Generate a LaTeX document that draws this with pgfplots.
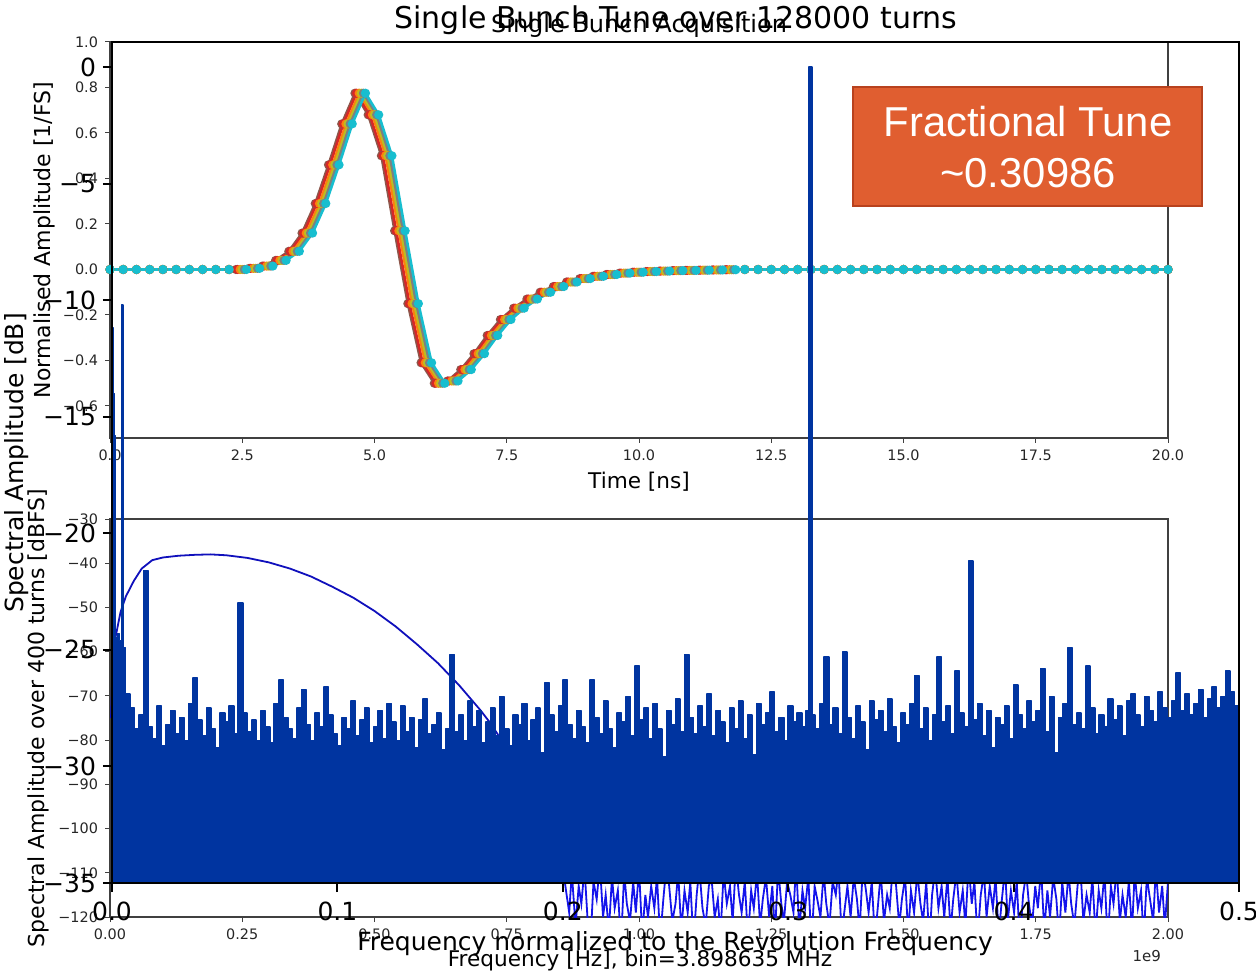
\documentclass[border=0pt]{standalone}
\usepackage{fontspec}
\setmainfont{DejaVu Sans}
\newfontfamily\arialfont{Liberation Sans}
\usepackage{pgfplots}
\pgfplotsset{compat=1.18}
\usepackage{pgfplotstable}

\definecolor{specblue}{RGB}{0,52,160}
\definecolor{cblue}{RGB}{20,20,235}
\definecolor{tabbrown}{HTML}{8C564B}
\definecolor{tabred}{HTML}{D62728}
\definecolor{taborange}{HTML}{FF7F0E}
\definecolor{tabolive}{HTML}{BCBD22}
\definecolor{tabgray}{HTML}{7F7F7F}
\definecolor{tabcyan}{HTML}{17BECF}
\definecolor{boxorange}{RGB}{224,94,48}
\definecolor{boxedge}{RGB}{184,66,30}

% Single bunch acquisition: sample times of six traces and amplitude
\pgfplotstableread{
tb tr to ty tg tc v
0 0 0 0 0 0 0
0.25 0.25 0.25 0.25 0.25 0.25 0
0.5 0.5 0.5 0.5 0.5 0.5 0
0.75 0.75 0.75 0.75 0.75 0.75 0
1.0 1.0 1.0 1.0 1.0 1.0 0
1.25 1.25 1.25 1.25 1.25 1.25 0
1.5 1.5 1.5 1.5 1.5 1.5 0
1.75 1.75 1.75 1.75 1.75 1.75 0
2.0 2.0 2.0 2.0 2.0 2.0 0
2.25 2.25 2.25 2.25 2.25 2.25 0
2.38 2.41 2.46 2.50 2.54 2.58 0
2.63 2.66 2.71 2.75 2.79 2.83 0.005
2.88 2.91 2.96 3.00 3.04 3.08 0.015
3.13 3.16 3.21 3.25 3.29 3.33 0.04
3.38 3.41 3.46 3.50 3.54 3.58 0.08
3.63 3.66 3.71 3.75 3.79 3.83 0.16
3.88 3.91 3.96 4.00 4.04 4.08 0.29
4.13 4.16 4.21 4.25 4.29 4.33 0.46
4.38 4.41 4.46 4.50 4.54 4.58 0.64
4.63 4.66 4.71 4.75 4.79 4.83 0.775
4.88 4.91 4.96 5.00 5.04 5.08 0.68
5.13 5.16 5.21 5.25 5.29 5.33 0.50
5.38 5.41 5.46 5.50 5.54 5.58 0.17
5.63 5.66 5.71 5.75 5.79 5.83 -0.15
5.88 5.91 5.96 6.00 6.04 6.08 -0.41
6.13 6.16 6.21 6.25 6.29 6.33 -0.50
6.38 6.41 6.46 6.50 6.54 6.58 -0.49
6.63 6.66 6.71 6.75 6.79 6.83 -0.44
6.88 6.91 6.96 7.00 7.04 7.08 -0.37
7.13 7.16 7.21 7.25 7.29 7.33 -0.29
7.38 7.41 7.46 7.50 7.54 7.58 -0.22
7.63 7.66 7.71 7.75 7.79 7.83 -0.17
7.88 7.91 7.96 8.00 8.04 8.08 -0.13
8.13 8.16 8.21 8.25 8.29 8.33 -0.10
8.38 8.41 8.46 8.50 8.54 8.58 -0.075
8.63 8.66 8.71 8.75 8.79 8.83 -0.055
8.88 8.91 8.96 9.00 9.04 9.08 -0.04
9.13 9.16 9.21 9.25 9.29 9.33 -0.03
9.38 9.41 9.46 9.50 9.54 9.58 -0.022
9.63 9.66 9.71 9.75 9.79 9.83 -0.016
9.88 9.91 9.96 10.00 10.04 10.08 -0.012
10.13 10.16 10.21 10.25 10.29 10.33 -0.009
10.38 10.41 10.46 10.50 10.54 10.58 -0.007
10.63 10.66 10.71 10.75 10.79 10.83 -0.005
10.88 10.91 10.96 11.00 11.04 11.08 -0.004
11.13 11.16 11.21 11.25 11.29 11.33 -0.003
11.38 11.41 11.46 11.50 11.54 11.58 -0.002
11.63 11.66 11.71 11.75 11.79 11.83 -0.001
12.0 12.0 12.0 12.0 12.0 12.0 0
12.25 12.25 12.25 12.25 12.25 12.25 0
12.5 12.5 12.5 12.5 12.5 12.5 0
12.75 12.75 12.75 12.75 12.75 12.75 0
13.0 13.0 13.0 13.0 13.0 13.0 0
13.25 13.25 13.25 13.25 13.25 13.25 0
13.5 13.5 13.5 13.5 13.5 13.5 0
13.75 13.75 13.75 13.75 13.75 13.75 0
14.0 14.0 14.0 14.0 14.0 14.0 0
14.25 14.25 14.25 14.25 14.25 14.25 0
14.5 14.5 14.5 14.5 14.5 14.5 0
14.75 14.75 14.75 14.75 14.75 14.75 0
15.0 15.0 15.0 15.0 15.0 15.0 0
15.25 15.25 15.25 15.25 15.25 15.25 0
15.5 15.5 15.5 15.5 15.5 15.5 0
15.75 15.75 15.75 15.75 15.75 15.75 0
16.0 16.0 16.0 16.0 16.0 16.0 0
16.25 16.25 16.25 16.25 16.25 16.25 0
16.5 16.5 16.5 16.5 16.5 16.5 0
16.75 16.75 16.75 16.75 16.75 16.75 0
17.0 17.0 17.0 17.0 17.0 17.0 0
17.25 17.25 17.25 17.25 17.25 17.25 0
17.5 17.5 17.5 17.5 17.5 17.5 0
17.75 17.75 17.75 17.75 17.75 17.75 0
18.0 18.0 18.0 18.0 18.0 18.0 0
18.25 18.25 18.25 18.25 18.25 18.25 0
18.5 18.5 18.5 18.5 18.5 18.5 0
18.75 18.75 18.75 18.75 18.75 18.75 0
19.0 19.0 19.0 19.0 19.0 19.0 0
19.25 19.25 19.25 19.25 19.25 19.25 0
19.5 19.5 19.5 19.5 19.5 19.5 0
19.75 19.75 19.75 19.75 19.75 19.75 0
20.0 20.0 20.0 20.0 20.0 20.0 0
}\Btab

% Spectrum over 400 turns: smooth part (x in units of 1e9 Hz)
\pgfplotstableread{
f db
0.002 -75
0.005 -62
0.01 -57
0.02 -51
0.03 -47.5
0.045 -44
0.06 -41.2
0.08 -39.3
0.10 -38.7
0.13 -38.3
0.16 -38.1
0.19 -38.0
0.22 -38.2
0.26 -38.8
0.30 -39.8
0.34 -41.2
0.38 -43.0
0.42 -45.3
0.46 -47.8
0.50 -50.8
0.54 -54.3
0.58 -58.3
0.62 -62.6
0.66 -67.6
0.70 -73.2
0.72 -76.3
0.74 -80.0
0.77 -86
0.80 -93
0.83 -101
0.855 -108
}\Ctab

% Spectrum over 400 turns: noise floor (x in units of 1e9 Hz)
\pgfplotstableread{
f db
0.855 -108
0.862 -114
0.868 -119
0.873 -110
0.880 -122
0.886 -113
0.891 -117
0.897 -109
0.903 -121
0.909 -124
0.914 -112
0.920 -116
0.926 -108
0.932 -120
0.937 -115
0.943 -123
0.949 -111
0.954 -118
0.960 -114
0.966 -126
0.972 -110
0.977 -117
0.983 -121
0.989 -112
0.994 -119
1.000 -109
1.006 -124
1.012 -115
1.017 -120
1.023 -113
1.029 -118
1.034 -111
1.040 -125
1.046 -116
1.052 -108
1.057 -113
1.063 -121
1.069 -117
1.074 -110
1.080 -123
1.086 -114
1.092 -119
1.097 -112
1.103 -126
1.109 -115
1.114 -109
1.120 -118
1.126 -122
1.132 -113
1.137 -111
1.143 -120
1.149 -116
1.154 -124
1.160 -110
1.166 -117
1.172 -113
1.177 -121
1.183 -108
1.189 -115
1.194 -119
1.200 -112
1.206 -125
1.212 -114
1.217 -118
1.223 -110
1.229 -122
1.234 -116
1.240 -111
1.246 -120
1.252 -113
1.257 -124
1.263 -109
1.269 -117
1.274 -121
1.280 -112
1.286 -115
1.292 -119
1.297 -108
1.303 -123
1.309 -114
1.314 -118
1.320 -111
1.326 -126
1.332 -113
1.337 -116
1.343 -120
1.349 -110
1.354 -117
1.360 -122
1.366 -112
1.372 -115
1.377 -109
1.383 -124
1.389 -118
1.394 -113
1.400 -120
1.406 -111
1.412 -116
1.417 -123
1.423 -109
1.429 -114
1.434 -119
1.440 -112
1.446 -125
1.452 -117
1.457 -110
1.463 -121
1.469 -115
1.474 -118
1.480 -108
1.486 -113
1.492 -122
1.497 -116
1.503 -111
1.509 -124
1.514 -114
1.520 -119
1.526 -110
1.532 -117
1.537 -121
1.543 -112
1.549 -126
1.554 -115
1.560 -109
1.566 -118
1.572 -113
1.577 -120
1.583 -111
1.589 -123
1.594 -116
1.600 -110
1.606 -119
1.612 -114
1.617 -122
1.623 -108
1.629 -117
1.634 -112
1.640 -125
1.646 -115
1.652 -110
1.657 -120
1.663 -113
1.669 -118
1.674 -111
1.680 -124
1.686 -116
1.692 -109
1.697 -121
1.703 -114
1.709 -119
1.714 -112
1.720 -126
1.726 -115
1.732 -110
1.737 -117
1.743 -122
1.749 -113
1.754 -118
1.760 -109
1.766 -123
1.772 -114
1.777 -120
1.783 -111
1.789 -116
1.794 -125
1.800 -112
1.806 -119
1.812 -110
1.817 -117
1.823 -122
1.829 -113
1.834 -108
1.840 -121
1.846 -115
1.852 -119
1.857 -111
1.863 -124
1.869 -114
1.874 -118
1.880 -110
1.886 -126
1.892 -113
1.897 -117
1.903 -109
1.909 -121
1.914 -115
1.920 -120
1.926 -112
1.932 -123
1.937 -110
1.943 -118
1.949 -114
1.954 -125
1.960 -111
1.966 -116
1.972 -121
1.977 -109
1.983 -119
1.989 -113
1.994 -122
2.000 -112
}\Dtab

% Tune spectrum over 128000 turns
\pgfplotstableread{
q a
0 -40
0.0002 -11.2
0.0007 -14.0
0.0011 -15.8
0.0015 -24.5
0.0024 -24.3
0.0033 -24.6
0.0042 -10.2
0.0050 -24.9
0.006 -26.9
0.008 -27.5
0.010 -28.4
0.012 -27.8
0.014 -21.6
0.016 -28.3
0.018 -28.8
0.020 -27.4
0.022 -29.1
0.024 -28.2
0.026 -27.6
0.028 -28.6
0.030 -27.9
0.032 -28.9
0.034 -27.3
0.036 -26.2
0.038 -28.0
0.040 -28.7
0.042 -27.5
0.044 -28.4
0.046 -29.2
0.048 -27.7
0.050 -28.1
0.052 -27.4
0.054 -28.6
0.056 -23.0
0.058 -27.7
0.060 -28.5
0.062 -28.0
0.064 -28.9
0.066 -27.6
0.068 -28.3
0.070 -29.0
0.072 -27.3
0.074 -26.3
0.076 -27.9
0.078 -28.4
0.080 -28.8
0.082 -27.5
0.084 -26.7
0.086 -28.2
0.088 -28.9
0.090 -27.7
0.092 -28.3
0.094 -26.6
0.096 -27.8
0.098 -28.6
0.100 -29.1
0.102 -27.9
0.104 -28.4
0.106 -27.2
0.108 -28.7
0.110 -28.0
0.112 -27.5
0.114 -29.0
0.116 -28.3
0.118 -27.6
0.120 -28.8
0.122 -27.3
0.124 -28.1
0.126 -28.9
0.128 -27.4
0.130 -28.5
0.132 -27.9
0.134 -29.2
0.136 -28.0
0.138 -27.1
0.140 -28.6
0.142 -28.2
0.144 -27.7
0.146 -29.3
0.148 -28.4
0.150 -25.2
0.152 -28.5
0.154 -27.8
0.156 -28.9
0.158 -27.2
0.160 -28.3
0.162 -27.6
0.164 -29.0
0.166 -28.1
0.168 -27.5
0.170 -28.7
0.172 -27.0
0.174 -28.4
0.176 -29.1
0.178 -27.8
0.180 -28.2
0.182 -27.3
0.184 -28.9
0.186 -28.0
0.188 -27.5
0.190 -29.4
0.192 -26.4
0.194 -27.8
0.196 -28.5
0.198 -27.4
0.200 -26.3
0.202 -28.2
0.204 -28.8
0.206 -27.6
0.208 -28.3
0.210 -29.0
0.212 -26.3
0.214 -27.9
0.216 -28.6
0.218 -27.2
0.220 -28.4
0.222 -29.2
0.224 -27.7
0.226 -28.1
0.228 -27.0
0.230 -28.7
0.232 -25.7
0.234 -28.0
0.236 -27.5
0.238 -28.8
0.240 -27.3
0.242 -28.4
0.244 -29.6
0.246 -27.6
0.248 -28.2
0.250 -27.1
0.252 -28.5
0.254 -25.2
0.256 -27.9
0.258 -28.6
0.260 -27.4
0.262 -28.3
0.264 -26.9
0.266 -28.7
0.268 -27.6
0.270 -28.1
0.272 -29.0
0.274 -27.5
0.276 -28.4
0.278 -27.2
0.280 -28.8
0.282 -27.8
0.284 -29.5
0.286 -27.3
0.288 -28.2
0.290 -27.7
0.292 -26.8
0.294 -28.5
0.296 -27.9
0.298 -28.9
0.300 -27.4
0.302 -28.1
0.304 -27.7
0.306 -28.3
0.308 -27.6
0.3092 0.0
0.3106 -27.8
0.312 -28.4
0.314 -27.3
0.316 -25.3
0.318 -28.2
0.320 -27.5
0.322 -28.6
0.324 -25.1
0.326 -27.9
0.328 -28.8
0.330 -27.4
0.332 -28.1
0.334 -29.3
0.336 -27.2
0.338 -28.0
0.340 -27.6
0.342 -28.5
0.344 -27.1
0.346 -28.3
0.348 -29.0
0.350 -27.7
0.352 -28.2
0.354 -27.3
0.356 -26.1
0.358 -28.4
0.360 -27.5
0.362 -28.9
0.364 -27.8
0.366 -25.3
0.368 -28.1
0.370 -27.4
0.372 -28.6
0.374 -25.9
0.376 -27.7
0.378 -28.3
0.380 -21.2
0.382 -28.0
0.384 -27.3
0.386 -28.7
0.388 -27.6
0.390 -29.2
0.392 -27.9
0.394 -28.2
0.396 -27.4
0.398 -28.8
0.400 -26.5
0.402 -27.8
0.404 -28.4
0.406 -27.2
0.408 -28.1
0.410 -27.6
0.412 -25.8
0.414 -28.5
0.416 -27.0
0.418 -29.4
0.420 -27.9
0.422 -27.3
0.424 -24.9
0.426 -28.2
0.428 -27.7
0.430 -28.4
0.432 -25.7
0.434 -27.5
0.436 -28.6
0.438 -27.8
0.440 -28.3
0.442 -27.1
0.444 -28.0
0.446 -27.4
0.448 -28.7
0.450 -27.2
0.452 -26.9
0.454 -27.8
0.456 -28.3
0.458 -27.0
0.460 -27.6
0.462 -28.1
0.464 -26.8
0.466 -27.5
0.468 -27.9
0.470 -27.2
0.472 -26.0
0.474 -27.6
0.476 -26.9
0.478 -27.8
0.480 -27.3
0.482 -26.7
0.484 -27.9
0.486 -27.1
0.488 -26.6
0.490 -27.5
0.492 -27.0
0.494 -25.9
0.496 -26.8
0.498 -27.4
0.500 -26.9
0.500 -40
}\Atab

\begin{document}
\begin{tikzpicture}
\useasboundingbox (0,0) rectangle (628pt,487.5pt);

% ---------------- inset: single bunch acquisition ----------------
\begin{axis}[
  at={(55pt,268.5pt)}, anchor=south west, scale only axis,
  width=529pt, height=198pt,
  xmin=0, xmax=20, ymin=-0.7407, ymax=1.0,
  axis line style={black!75, line width=0.6pt},
  tick align=outside, xtick pos=left, ytick pos=left,
  major tick length=2.5pt,
  tick style={black!75, line width=0.5pt},
  xtick={0,2.5,5,7.5,10,12.5,15,17.5,20},
  xticklabels={0.0,2.5,5.0,7.5,10.0,12.5,15.0,17.5,20.0},
  ytick={-0.6,-0.4,-0.2,0,0.2,0.4,0.6,0.8,1.0},
  yticklabels={−0.6,−0.4,−0.2,0.0,0.2,0.4,0.6,0.8,1.0},
  tick label style={font=\fontsize{7.2}{8.5}\selectfont, text=black!85},
]
\addplot[tabbrown, line width=1.3pt, mark=*, mark size=1.6pt] table[x=tb, y=v] {\Btab};
\addplot[tabred, line width=1.3pt, mark=*, mark size=1.6pt] table[x=tr, y=v] {\Btab};
\addplot[taborange, line width=1.3pt, mark=*, mark size=1.6pt] table[x=to, y=v] {\Btab};
\addplot[tabolive, line width=1.3pt, mark=*, mark size=1.6pt] table[x=ty, y=v] {\Btab};
\addplot[tabgray, line width=1.3pt, mark=*, mark size=1.6pt] table[x=tg, y=v] {\Btab};
\addplot[tabcyan, line width=1.3pt, mark=*, mark size=1.6pt] table[x=tc, y=v] {\Btab};
\end{axis}

% ---------------- inset: spectrum over 400 turns ----------------
\begin{axis}[
  at={(55pt,29pt)}, anchor=south west, scale only axis,
  width=529pt, height=199pt,
  xmin=0, xmax=2, ymin=-120, ymax=-30,
  axis line style={black!75, line width=0.6pt},
  tick align=outside, xtick pos=left, ytick pos=left,
  major tick length=2.5pt,
  tick style={black!75, line width=0.5pt},
  xtick={0,0.25,0.5,0.75,1,1.25,1.5,1.75,2},
  xticklabels={0.00,0.25,0.50,0.75,1.00,1.25,1.50,1.75,2.00},
  ytick={-120,-110,-100,-90,-80,-70,-60,-50,-40,-30},
  yticklabels={−120,−110,−100,−90,−80,−70,−60,−50,−40,−30},
  tick label style={font=\fontsize{7.2}{8.5}\selectfont, text=black!85},
]
\addplot[cblue!80!black, line width=0.9pt] table[x=f, y=db] {\Ctab};
\addplot[cblue, line width=0.9pt] table[x=f, y=db] {\Dtab};
\end{axis}

% ---------------- main axis: tune spectrum ----------------
\begin{axis}[
  at={(56pt,46pt)}, anchor=south west, scale only axis,
  width=563.5pt, height=420.5pt,
  xmin=0, xmax=0.5, ymin=-35, ymax=1.072,
  axis on top,
  axis line style={black, line width=1.2pt},
  tick align=outside, xtick pos=left, ytick pos=left,
  major tick length=4.5pt,
  tick style={black, line width=1pt},
  xtick={0,0.1,0.2,0.3,0.4,0.5},
  xticklabels={0.0,0.1,0.2,0.3,0.4,0.5},
  ytick={-35,-30,-25,-20,-15,-10,-5,0},
  yticklabels={−35,−30,−25,−20,−15,−10,−5,0},
  tick label style={font=\fontsize{12.5}{15}\selectfont},
  xticklabel style={yshift=-1.5pt},
]
\addplot[const plot, fill=specblue, draw=specblue, line width=0.8pt, line join=round] table[x=q, y=a] {\Atab};
\end{axis}

% ---------------- titles and labels ----------------
\node[anchor=base, font=\fontsize{15}{18}\selectfont] at (338pt,473.3pt) {Single Bunch Tune over 128000 turns};
\node[anchor=base, font=\fontsize{12}{14}\selectfont] at (319.5pt,471pt) {Single Bunch Acquisition};
\node[anchor=base, font=\fontsize{10.8}{13}\selectfont] at (319.5pt,243pt) {Time [ns]};
\node[anchor=base, font=\fontsize{12.5}{15}\selectfont] at (337.5pt,12.5pt) {Frequency normalized to the Revolution Frequency};
\node[anchor=base, font=\fontsize{10.8}{13}\selectfont] at (320pt,4.5pt) {Frequency [Hz], bin=3.898635 MHz};
\node[anchor=base east, font=\fontsize{7.5}{9}\selectfont, text=black!85] at (584pt,7pt) {1e9};
\node[rotate=90, anchor=base, font=\fontsize{12.5}{15}\selectfont] at (11.5pt,256pt) {Spectral Amplitude [dB]};
\node[rotate=90, anchor=base, font=\fontsize{11}{13}\selectfont] at (25pt,367.5pt) {Normalised Amplitude [1/FS]};
\node[rotate=90, anchor=base, font=\fontsize{11}{13}\selectfont] at (22pt,128.5pt) {Spectral Amplitude over 400 turns [dBFS]};

% ---------------- annotation box ----------------
\node[fill=boxorange, draw=boxedge, line width=0.8pt, minimum width=174.5pt, minimum height=59.5pt, inner sep=0pt] at (513.75pt,414.25pt) {};
\node[anchor=base, text=white, font=\arialfont\fontsize{20.9}{24}\selectfont] at (514pt,419pt) {Fractional Tune};
\node[anchor=base, text=white, font=\arialfont\fontsize{20.9}{24}\selectfont] at (514pt,393.5pt) {\textasciitilde 0.30986};
\end{tikzpicture}
\end{document}
